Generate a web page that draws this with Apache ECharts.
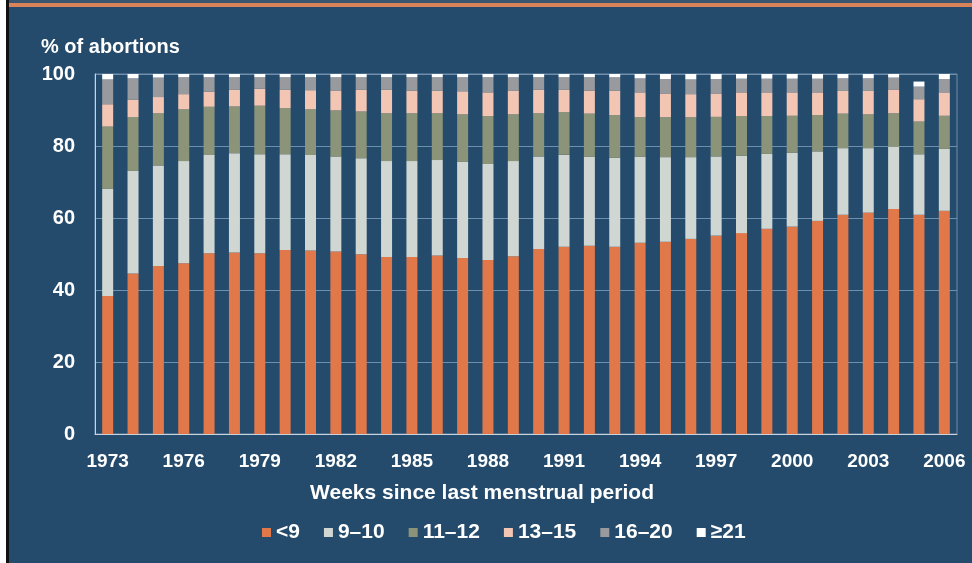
<!DOCTYPE html>
<html>
<head>
<meta charset="utf-8">
<script src="https://cdn.jsdelivr.net/npm/echarts@6/dist/echarts.min.js"></script>
<style>
  html, body { margin: 0; padding: 0; background: #244a6c; }
  #chart { width: 972px; height: 563px; }
</style>
</head>
<body>
<div id="chart"></div>
<script>
// ==========================================
// 데이터 (% of abortions by weeks since LMP)
// ==========================================
const years = [];
for (let y = 1973; y <= 2006; y++) years.push(String(y));

const seriesNames = ['<9', '9–10', '11–12', '13–15', '16–20', '≥21'];

const lt9 = [38.3, 44.6, 46.7, 47.4, 50.2, 50.4, 50.2, 51.1, 51.0, 50.7, 49.9, 49.2,
    49.2, 49.6, 48.9, 48.3, 49.4, 51.4, 52.0, 52.3, 52.0, 53.1, 53.4, 54.2,
    55.1, 55.8, 57.0, 57.6, 59.2, 60.9, 61.5, 62.5, 60.9, 62.0];
const w9to10 = [29.8, 28.5, 27.9, 28.4, 27.3, 27.6, 27.5, 26.6, 26.5, 26.4, 26.7, 26.6,
    26.6, 26.5, 26.7, 26.7, 26.4, 25.7, 25.6, 24.7, 24.7, 23.9, 23.5, 22.7,
    22.0, 21.5, 20.8, 20.5, 19.3, 18.5, 17.9, 17.3, 16.8, 17.2];
const w11to12 = [17.3, 14.9, 14.5, 14.4, 13.4, 13.0, 13.5, 12.8, 12.7, 12.8, 13.0, 13.3,
    13.3, 13.0, 13.2, 13.3, 13.0, 12.0, 11.8, 12.0, 11.9, 11.0, 11.1, 11.1,
    11.0, 11.0, 10.5, 10.3, 10.1, 9.6, 9.4, 9.3, 9.1, 9.2];
const w13to15 = [6.2, 4.9, 4.5, 4.2, 4.2, 4.6, 4.7, 5.1, 5.3, 5.4, 6.0, 6.5,
    6.3, 6.3, 6.4, 6.6, 6.5, 6.5, 6.2, 6.4, 6.8, 6.9, 6.6, 6.4,
    6.5, 6.6, 6.6, 6.5, 6.3, 6.3, 6.5, 6.6, 6.2, 6.5];
const w16to20 = [6.9, 5.9, 5.4, 4.7, 4.0, 3.5, 3.2, 3.5, 3.6, 3.8, 3.5, 3.5,
    3.7, 3.7, 3.9, 4.2, 3.8, 3.5, 3.5, 3.7, 3.7, 3.9, 4.0, 4.1,
    4.0, 3.8, 3.8, 3.8, 3.8, 3.5, 3.5, 3.3, 3.5, 3.7];
const w21plus = [1.5, 1.2, 1.0, 0.9, 0.9, 0.9, 0.9, 0.9, 0.9, 0.9, 0.9, 0.9,
    0.9, 0.9, 0.9, 0.9, 0.9, 0.9, 0.9, 0.9, 0.9, 1.2, 1.4, 1.5,
    1.4, 1.3, 1.3, 1.3, 1.3, 1.2, 1.2, 1.0, 1.4, 1.4];

const yTicks = [0, 20, 40, 60, 80, 100];

const seriesData = [lt9, w9to10, w11to12, w13to15, w16to20, w21plus];
const colors = ['#e0784a', '#d0d7d3', '#8b9479', '#f3c6b4', '#999a9d', '#ffffff'];

// ==========================================
// 차트 초기화
// ==========================================
const FONT = 'Liberation Sans, Arial, sans-serif';
const chart = echarts.init(document.getElementById('chart'));

const option = {
    backgroundColor: '#244a6c',
    animation: false,
    textStyle: { fontFamily: FONT },
    title: {
        text: '% of abortions',
        left: 36,
        top: 32,
        textStyle: { color: '#ffffff', fontSize: 20, fontWeight: 'bold', fontFamily: FONT }
    },
    graphic: [
        // 상단 주황색 선과 왼쪽 테두리
        { type: 'rect', shape: { x: 0, y: 0, width: 972, height: 3 }, style: { fill: '#3a5570' } },
        { type: 'rect', shape: { x: 0, y: 3, width: 972, height: 4 }, style: { fill: '#d9835a' } },
        { type: 'rect', shape: { x: 0, y: 0, width: 6, height: 563 }, style: { fill: '#ffffff' } },
        { type: 'rect', shape: { x: 6, y: 0, width: 3, height: 563 }, style: { fill: '#111111' } },
        // x축 제목 (페이지 기준 가운데)
        {
            type: 'text',
            style: {
                x: 482, y: 483,
                text: 'Weeks since last menstrual period',
                align: 'center',
                fill: '#ffffff',
                font: 'bold 21px ' + FONT
            }
        }
    ],
    grid: {
        left: 95,
        right: 15,
        top: 74,
        bottom: 129,
        show: true,
        borderColor: '#6f8fae',
        borderWidth: 1,
        containLabel: false
    },
    legend: {
        data: seriesNames,
        bottom: 15,
        left: 257,
        icon: 'rect',
        itemWidth: 9,
        itemHeight: 9,
        itemGap: 24,
        textStyle: { color: '#ffffff', fontSize: 21, fontWeight: 'bold', fontFamily: FONT }
    },
    xAxis: {
        type: 'category',
        data: years,
        axisLine: { lineStyle: { color: '#c9d3dd', width: 1 } },
        axisTick: { show: false },
        axisLabel: {
            interval: 2,
            color: '#ffffff',
            fontSize: 19,
            fontWeight: 'bold',
            margin: 18,
            fontFamily: FONT
        }
    },
    yAxis: {
        type: 'value',
        min: yTicks[0],
        max: yTicks[yTicks.length - 1],
        interval: 20,
        axisLine: { show: true, lineStyle: { color: '#c9d3dd', width: 1 } },
        axisTick: { show: false },
        splitLine: { lineStyle: { color: '#6f8fae', width: 1 } },
        axisLabel: {
            color: '#ffffff',
            fontSize: 20,
            fontWeight: 'bold',
            margin: 20,
            fontFamily: FONT
        }
    },
    series: seriesNames.map((name, i) => ({
        name: name,
        type: 'bar',
        stack: 'total',
        barWidth: 11,
        itemStyle: { color: colors[i] },
        data: seriesData[i]
    }))
};

chart.setOption(option);
</script>
</body>
</html>
